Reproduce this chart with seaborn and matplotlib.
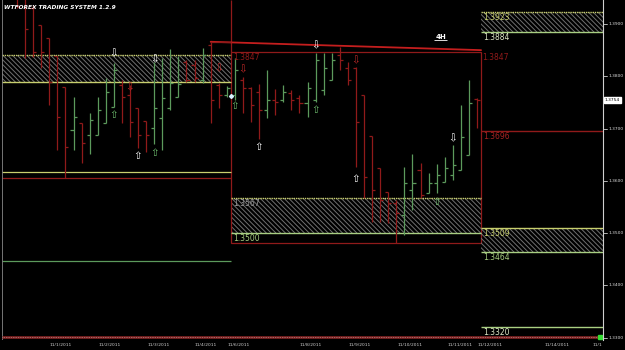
import numpy as np
import pandas as pd
import matplotlib
matplotlib.use("Agg")
import matplotlib.pyplot as plt
import matplotlib.transforms as mtransforms
from matplotlib.patches import Rectangle
import seaborn as sns

# ---------------- data ----------------
title = "WTFOREX TRADING SYSTEM 1.2.9"
timeframe = "4H"
opens = [1.3950, 1.3952, 1.3931, 1.3898, 1.3873, 1.3839, 1.3780, 1.3697, 1.3711, 1.3688,
         1.3688, 1.3711, 1.3741, 1.3783, 1.3764, 1.3739, 1.3715, 1.3701, 1.3720, 1.3739,
         1.3760, 1.3827, 1.3822, 1.3793, 1.3860, 1.3783, 1.3764, 1.3764, 1.3793, 1.3778,
         1.3770, 1.3736, 1.3755, 1.3755, 1.3768, 1.3759, 1.3749, 1.3755, 1.3774, 1.3793,
         1.3841, 1.3816, 1.3816, 1.3764, 1.3686, 1.3625, 1.3579, 1.3558, 1.3535, 1.3583,
         1.3621, 1.3577, 1.3596, 1.3598, 1.3611, 1.3621, 1.3650, 1.3757]
highs = [1.3956, 1.3962, 1.3936, 1.3898, 1.3873, 1.3839, 1.3780, 1.3760, 1.3711, 1.3730,
         1.3760, 1.3797, 1.3825, 1.3793, 1.3783, 1.3739, 1.3715, 1.3827, 1.3835, 1.3852,
         1.3839, 1.3831, 1.3831, 1.3854, 1.3866, 1.3787, 1.3782, 1.3835, 1.3799, 1.3780,
         1.3785, 1.3812, 1.3776, 1.3783, 1.3774, 1.3764, 1.3789, 1.3845, 1.3845, 1.3845,
         1.3856, 1.3827, 1.3818, 1.3764, 1.3686, 1.3625, 1.3579, 1.3564, 1.3627, 1.3651,
         1.3634, 1.3615, 1.3632, 1.3646, 1.3669, 1.3745, 1.3793, 1.3759]
lows = [1.3931, 1.3835, 1.3837, 1.3816, 1.3745, 1.3659, 1.3606, 1.3659, 1.3634, 1.3651,
        1.3688, 1.3711, 1.3741, 1.3711, 1.3684, 1.3663, 1.3655, 1.3671, 1.3659, 1.3736,
        1.3760, 1.3789, 1.3789, 1.3787, 1.3711, 1.3739, 1.3760, 1.3755, 1.3730, 1.3713,
        1.3680, 1.3720, 1.3726, 1.3751, 1.3736, 1.3730, 1.3722, 1.3751, 1.3764, 1.3793,
        1.3812, 1.3783, 1.3627, 1.3567, 1.3521, 1.3521, 1.3519, 1.3481, 1.3497, 1.3544,
        1.3567, 1.3577, 1.3577, 1.3598, 1.3602, 1.3621, 1.3650, 1.3701]
closes = [1.3935, 1.3890, 1.3846, 1.3846, 1.3789, 1.3722, 1.3665, 1.3722, 1.3673, 1.3717,
          1.3736, 1.3770, 1.3812, 1.3760, 1.3713, 1.3688, 1.3688, 1.3739, 1.3759, 1.3787,
          1.3785, 1.3793, 1.3797, 1.3841, 1.3755, 1.3764, 1.3778, 1.3812, 1.3778, 1.3745,
          1.3736, 1.3755, 1.3751, 1.3770, 1.3755, 1.3749, 1.3778, 1.3831, 1.3816, 1.3831,
          1.3831, 1.3793, 1.3713, 1.3607, 1.3583, 1.3564, 1.3558, 1.3539, 1.3596, 1.3596,
          1.3573, 1.3596, 1.3611, 1.3625, 1.3630, 1.3684, 1.3749, 1.3754]

current_price = 1.3754
axis_ticks = [1.3900, 1.3800, 1.3700, 1.3600, 1.3500, 1.3400, 1.3300]
date_labels = ["11/1/2011", "11/2/2011", "11/3/2011", "11/4/2011", "11/6/2011", "11/8/2011",
               "11/9/2011", "11/10/2011", "11/11/2011", "11/12/2011", "11/14/2011", "11/1"]
date_pos = [5.45, 11.5, 17.5, 23.4, 27.5, 36.4, 42.5, 48.7, 54.9, 58.6, 66.9, 71.9]

# zones (price levels)
left_zone = (1.3789, 1.3841)
left_levels = [1.3617, 1.3606, 1.3446]
mid_box = (1.3481, 1.3847)
mid_zone = (1.3500, 1.3567)
right_zone_top = (1.3884, 1.3923)
right_red_level = 1.3696
right_zone_low = (1.3464, 1.3509)
right_green_level = 1.3320
trend_x = [24, 57.5]
trend_y = [1.3866, 1.3850]

# signal arrows: (bar, price, kind)
arrow_bar = [12, 17, 12, 15, 17, 14, 25, 28, 27, 30, 37, 37, 42, 42, 54, 52]
arrow_price = [1.3843, 1.3833, 1.3726, 1.3648, 1.3654, 1.3778, 1.3816, 1.3814, 1.3743,
               1.3665, 1.3736, 1.3860, 1.3831, 1.3604, 1.3682, 1.3560]
arrow_kind = ["wd", "wd", "gu", "wu", "gu", "rd", "rd", "rd", "gu", "wu", "gu", "wd",
              "rd", "wu", "wd", "gu"]

# ---------------- style ----------------
sns.set_theme(style="dark")
plt.rcParams["font.family"] = ["DejaVu Sans"]
plt.rcParams["hatch.linewidth"] = 0.7

RED = "#901a1a"
GREEN = "#5c9a5c"
YEL = "#c8cf6e"
LGREEN = "#a9cf82"
HATCH = "#707070"

fig = plt.figure(figsize=(6.25, 3.5), dpi=100, facecolor="black")
ax = fig.add_axes([2 / 625, 10 / 350, 601 / 625, 340 / 350])
ax.set_facecolor("black")
ax.set_xlim(-1.86, 72.61)
ax.set_ylim(1.32956, 1.39459)
for s in ["top", "left", "bottom"]:
    ax.spines[s].set_visible(False)
ax.spines["right"].set_color("#cfcfcf")
ax.spines["right"].set_linewidth(0.8)
ax.set_xticks([])
ax.set_yticks([])
ax.grid(False)

df = pd.DataFrame({"o": opens, "h": highs, "l": lows, "c": closes})
df["x"] = np.arange(len(df))
df["col"] = np.where(df["c"] >= df["o"], GREEN, RED)

xl, xm, xr = -1.86, 26.5, 57.5
HP = "\\\\\\\\\\\\\\"

# left zone
ax.add_patch(Rectangle((xl, left_zone[0]), xm - xl, left_zone[1] - left_zone[0],
                       facecolor="none", edgecolor=HATCH, hatch=HP, lw=0))
ax.hlines(left_zone[1], xl, xm, color=YEL, lw=1.0, linestyles=(0, (1, 0.6)))
ax.hlines(left_zone[0], xl, xm, color=YEL, lw=1.0)
ax.hlines(left_levels[0], xl, xm, color=YEL, lw=0.9)
ax.hlines(left_levels[1], xl, xm, color=RED, lw=0.9)
ax.hlines(left_levels[2], xl, xm, color=GREEN, lw=0.9)

# middle zone & box
ax.add_patch(Rectangle((xm, mid_zone[0]), xr - xm, mid_zone[1] - mid_zone[0],
                       facecolor="none", edgecolor=HATCH, hatch=HP, lw=0))
ax.hlines(mid_zone[1], xm, xr, color=YEL, lw=1.0, linestyles=(0, (1, 0.6)))
ax.hlines(mid_zone[0], xm, xr, color=LGREEN, lw=1.0)
ax.add_patch(Rectangle((xm, mid_box[0]), xr - xm, mid_box[1] - mid_box[0],
                       facecolor="none", edgecolor=RED, lw=0.9))
ax.vlines(xm, mid_box[1], 1.3946, color=RED, lw=0.9)
sns.lineplot(x=trend_x, y=trend_y, ax=ax, color="#c41e1e", lw=1.3, legend=False)
ax.hlines(trend_y[0], 24, xm, color=RED, lw=0.9)

# right zones
xe = 72.61
ax.add_patch(Rectangle((xr, right_zone_top[0]), xe - xr, right_zone_top[1] - right_zone_top[0],
                       facecolor="none", edgecolor=HATCH, hatch=HP, lw=0))
ax.hlines(right_zone_top[1], xr, xe, color=YEL, lw=1.0, linestyles=(0, (1, 0.6)))
ax.hlines(right_zone_top[0], xr, xe, color=LGREEN, lw=1.0)
ax.hlines(right_red_level, xr, xe, color=RED, lw=1.0)
ax.add_patch(Rectangle((xr, right_zone_low[0]), xe - xr, right_zone_low[1] - right_zone_low[0],
                       facecolor="none", edgecolor=HATCH, hatch=HP, lw=0))
ax.hlines(right_zone_low[1], xr, xe, color=YEL, lw=1.0)
ax.hlines(right_zone_low[0], xr, xe, color=LGREEN, lw=1.0)
ax.hlines(right_green_level, xr, xe, color=LGREEN, lw=1.0)

# level labels
lab_kw = dict(fontsize=5.5, va="top", ha="left")
ax.text(xm + 0.3, mid_box[1] - 0.0002, f"{mid_box[1]:.4f}", color=RED, **lab_kw)
ax.text(xr + 0.1, mid_box[1] - 0.0002, f"{mid_box[1]:.4f}", color=RED, **lab_kw)
ax.text(xm + 0.3, mid_zone[1] - 0.0002, f"{mid_zone[1]:.4f}", color="#9a9a9a", **lab_kw)
ax.text(xm + 0.3, mid_zone[0] - 0.0002, f"{mid_zone[0]:.4f}", color=LGREEN, **lab_kw)
ax.text(xr + 0.3, right_zone_top[1] - 0.0002, f"{right_zone_top[1]:.4f}", color=YEL, **lab_kw)
ax.text(xr + 0.3, right_zone_top[0] - 0.0002, f"{right_zone_top[0]:.4f}", color="#dfe8c8", **lab_kw)
ax.text(xr + 0.3, right_red_level - 0.0002, f"{right_red_level:.4f}", color="#a82222", **lab_kw)
ax.text(xr + 0.3, right_zone_low[1] - 0.0002, f"{right_zone_low[1]:.4f}", color=YEL, **lab_kw)
ax.text(xr + 0.3, right_zone_low[0] - 0.0002, f"{right_zone_low[0]:.4f}", color=LGREEN, **lab_kw)
ax.text(xr + 0.3, right_green_level - 0.0002, f"{right_green_level:.4f}", color="#dfe8c8", **lab_kw)

# OHLC bars
tw = 0.38
ax.vlines(df["x"], df["l"], df["h"], colors=df["col"], lw=0.9)
ax.hlines(df["o"], df["x"] - tw, df["x"], colors=df["col"], lw=0.9)
ax.hlines(df["c"], df["x"], df["x"] + tw, colors=df["col"], lw=0.9)

# arrows
glyph = {"wd": ("\u21e9", "white"), "wu": ("\u21e7", "white"),
         "gu": ("\u21e7", "#6fbf6f"), "rd": ("\u21e9", "#c02828")}
for b, p, k in zip(arrow_bar, arrow_price, arrow_kind):
    g, c = glyph[k]
    ax.text(b, p, g, color=c, fontsize=7.5, ha="center", va="center")
ax.plot([26.5], [1.3762], marker="D", ms=2, color="#d8f0ff")

# title & timeframe
ax.text(0.004, 0.985, title, transform=ax.transAxes, color="white", fontsize=4.2,
        fontstyle="italic", fontweight="bold", va="top", ha="left")
ax.text(52.5, 1.3870, timeframe, color="white", fontsize=5, fontweight="bold",
        ha="center", va="bottom")
ax.hlines(1.38685, 51.7, 53.3, color="white", lw=0.6)

# left frame line
ax.vlines(xl + 0.05, 1.32956, 1.39459, color="#8a8a8a", lw=1.2)

# right price axis
trans_r = mtransforms.blended_transform_factory(ax.transAxes, ax.transData)
for t in axis_ticks:
    ax.plot([1.0, 1.006], [t, t], color="#cfcfcf", lw=0.6, transform=trans_r, clip_on=False)
    ax.text(1.009, t, f"{t:.4f}", color="#dcdcdc", fontsize=3.2, va="center", ha="left",
            transform=trans_r, clip_on=False)
ax.text(1.003, current_price, f"{current_price:.4f}", color="black", fontsize=3.2,
        va="center", ha="left", transform=trans_r, clip_on=False,
        bbox=dict(boxstyle="square,pad=0.25", fc="white", ec="white"))

# bottom strip and date labels
ax.hlines(1.33005, -1.86, 72.3, color="#7a2020", lw=2.0)
ax.hlines(1.33005, -1.86, 72.3, color="#d8b0b0", lw=0.5, linestyles=(0, (1, 1.5)))
ax.plot([72.3], [1.3301], marker="s", ms=3.5, color="#33dd33", clip_on=False)
trans_b = mtransforms.blended_transform_factory(ax.transData, ax.transAxes)
for lab, pos in zip(date_labels, date_pos):
    ax.text(pos, -0.016, lab, color="#cfcfcf", fontsize=3.2, ha="center", va="center",
            transform=trans_b, clip_on=False)

fig.savefig("out.png", dpi=100, facecolor="black")
